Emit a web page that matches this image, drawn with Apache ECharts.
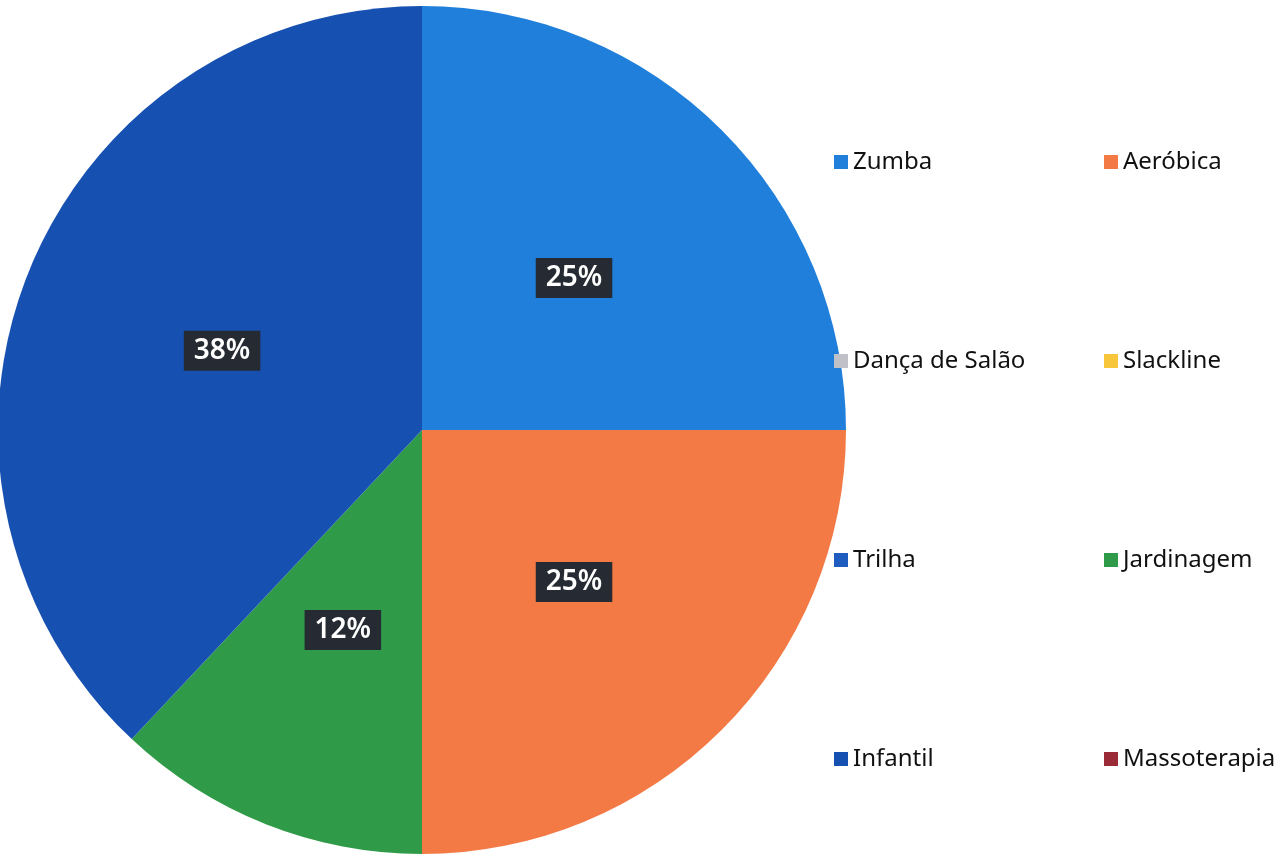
<!DOCTYPE html>
<html>
<head>
<meta charset="utf-8">
<script src="https://cdn.jsdelivr.net/npm/echarts@6/dist/echarts.min.js"></script>
<style>
html,body{margin:0;padding:0;background:#fff;}
#chart{width:1281px;height:861px;}
</style>
</head>
<body>
<div id="chart"></div>
<script>
const categories = ['Zumba','Aeróbica','Dança de Salão','Slackline','Trilha','Jardinagem','Infantil','Massoterapia'];
const values = [25, 25, 0, 0, 0, 12, 38, 0];
const colors = ['#1f7fda','#f47a45','#c0c0c8','#f7c63a','#1f5cc0','#2f9a48','#1650b0','#9a2a35'];
const leftCol = ['Zumba','Dança de Salão','Trilha','Infantil'];
const rightCol = ['Aeróbica','Slackline','Jardinagem','Massoterapia'];

const chart = echarts.init(document.getElementById('chart'));
const legendBase = {
  orient: 'vertical',
  top: 144,
  itemWidth: 14,
  itemHeight: 14,
  itemGap: 173,
  icon: 'rect',
  textStyle: {fontFamily: 'Noto Sans', fontSize: 24, color: '#111', lineHeight: 26}
};
chart.setOption({
  animation: false,
  color: colors,
  legend: [
    Object.assign({}, legendBase, {left: 829, data: leftCol}),
    Object.assign({}, legendBase, {left: 1099, data: rightCol})
  ],
  series: [{
    type: 'pie',
    center: [422, 430],
    radius: [0, 424],
    startAngle: 90,
    clockwise: true,
    avoidLabelOverlap: false,
    stillShowZeroSum: true,
    minShowLabelAngle: 1,
    label: {
      show: true,
      position: 'inside',
      formatter: p => p.value > 0 ? p.value + '%' : '',
      color: '#fff',
      fontFamily: 'Noto Sans',
      fontWeight: 600,
      fontSize: 28,
      lineHeight: 30,
      backgroundColor: '#262b33',
      padding: [6, 10, 4, 10]
    },
    labelLine: {show: false},
    itemStyle: {borderWidth: 0},
    emphasis: {disabled: true},
    data: categories.map((c, i) => ({name: c, value: values[i]}))
  }]
});
</script>
</body>
</html>
